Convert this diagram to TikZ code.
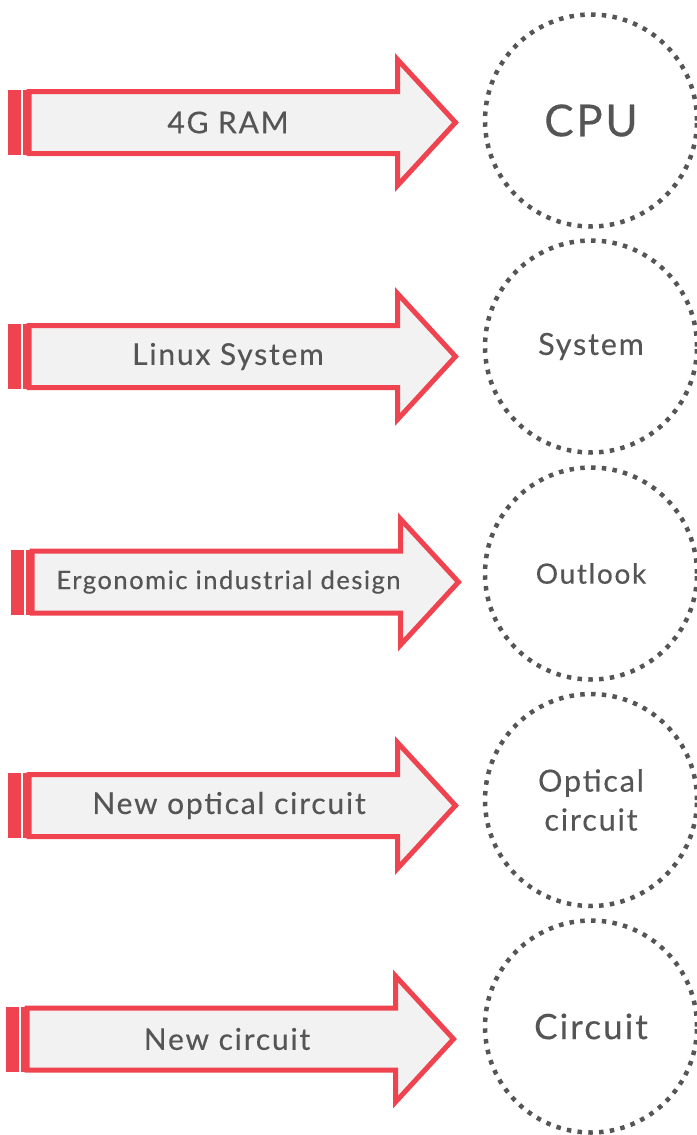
\documentclass[tikz,border=0pt]{standalone}
\usepackage{fontspec}
\setmainfont{Lato}[LetterSpace=6,FakeBold=0.3]
\definecolor{arrowred}{HTML}{EF4450}
\definecolor{arrowfill}{HTML}{F2F2F2}
\definecolor{textgrey}{HTML}{555555}
\tikzset{
  arrowshape/.style={draw=arrowred,fill=arrowfill,line width=5pt,miter limit=10},
  tailbar/.style={fill=arrowred,draw=none},
  arrowtext/.style={text=textgrey,font=\fontsize{30}{34}\selectfont,inner sep=0pt},
  ring/.style={circle,draw=textgrey,line width=4.5pt,dash pattern=on 4.5pt off 6.3pt,minimum size=212pt,inner sep=0pt,text=textgrey,align=center}
}
\begin{document}
\begin{tikzpicture}[x=1pt,y=-1pt]
        \useasboundingbox (0,0) rectangle (696,1135);

        \begin{scope}[shift={(0,122.5)}]
        \fill[tailbar] (8,-32.5) rectangle (20.5,32.5);
        \fill[tailbar] (23,-32.5) rectangle (27,32.5);
        \draw[arrowshape] (29,-31) -- (397.5,-31) -- (397.5,-63) -- (455.5,0) -- (397.5,63) -- (397.5,31) -- (29,31) -- cycle;
        \node[arrowtext] (ram) at (228,0) {4G RAM};
        \end{scope}
        \node[ring,font=\fontsize{44}{48}\selectfont] (cpu) at (591,120.5) {CPU};

        \begin{scope}[shift={(0,356.5)}]
        \fill[tailbar] (8,-32.5) rectangle (20.5,32.5);
        \fill[tailbar] (23,-32.5) rectangle (27,32.5);
        \draw[arrowshape] (29,-31) -- (397.5,-31) -- (397.5,-63) -- (455.5,0) -- (397.5,63) -- (397.5,31) -- (29,31) -- cycle;
        \node[arrowtext] (linux) at (228,0) {Linux System};
        \end{scope}
        \node[ring,font=\fontsize{30.5}{34}\selectfont] (system) at (591,346.5) {System};

        \begin{scope}[shift={(3,582)}]
        \fill[tailbar] (8,-32.5) rectangle (20.5,32.5);
        \fill[tailbar] (23,-32.5) rectangle (27,32.5);
        \draw[arrowshape] (29,-31) -- (397.5,-31) -- (397.5,-63) -- (455.5,0) -- (397.5,63) -- (397.5,31) -- (29,31) -- cycle;
        \node[arrowtext,font=\fontsize{25.5}{29}\selectfont] (design) at (225.5,0) {Ergonomic industrial design};
        \end{scope}
        \node[ring,font=\fontsize{28}{32}\selectfont] (outlook) at (591,573.5) {Outlook};

        \begin{scope}[shift={(0,805.5)}]
        \fill[tailbar] (8,-32.5) rectangle (20.5,32.5);
        \fill[tailbar] (23,-32.5) rectangle (27,32.5);
        \draw[arrowshape] (29,-31) -- (397.5,-31) -- (397.5,-63) -- (455.5,0) -- (397.5,63) -- (397.5,31) -- (29,31) -- cycle;
        \node[arrowtext] (optical) at (229,0) {New optical circuit};
        \end{scope}
        \node[ring,font=\fontsize{30.5}{39}\selectfont] (opticalcirc) at (591,800) {Optical\\circuit};

        \begin{scope}[shift={(-2,1039)}]
        \fill[tailbar] (8,-32.5) rectangle (20.5,32.5);
        \fill[tailbar] (23,-32.5) rectangle (27,32.5);
        \draw[arrowshape] (29,-31) -- (397.5,-31) -- (397.5,-63) -- (455.5,0) -- (397.5,63) -- (397.5,31) -- (29,31) -- cycle;
        \node[arrowtext] (newcirc) at (229,0) {New circuit};
        \end{scope}
        \node[ring,font=\fontsize{35}{39}\selectfont] (circuit) at (591,1026.5) {Circuit};
\end{tikzpicture}
\end{document}
